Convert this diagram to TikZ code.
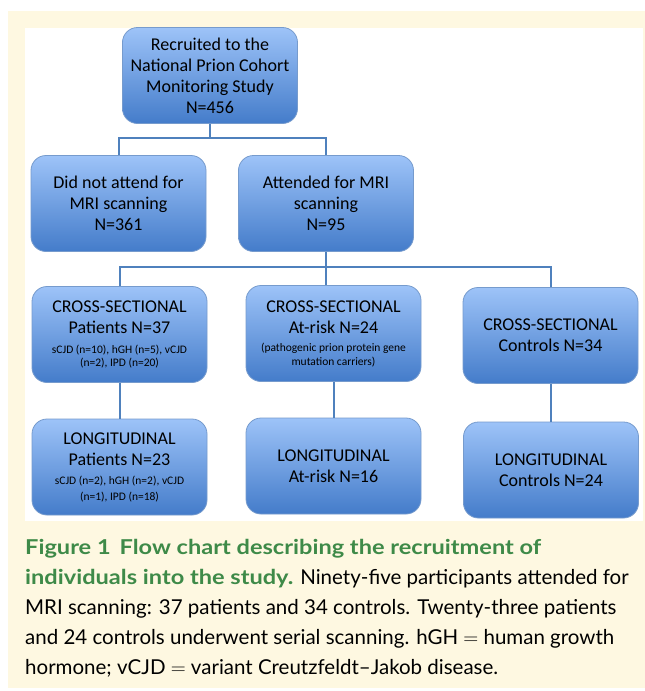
\documentclass[tikz,border=0pt]{standalone}
\usepackage{fontspec}
\setmainfont{Carlito}
\newfontfamily\capfont{Lato}
\newfontfamily\capbold{Lato Bold}[FakeStretch=1.15]
\definecolor{creambg}{RGB}{254, 248, 225}
\definecolor{boxtop}{RGB}{157, 195, 248}
\definecolor{boxbot}{RGB}{68, 124, 202}
\definecolor{boxedge}{RGB}{118, 155, 205}
\definecolor{linkblue}{RGB}{79, 129, 189}
\definecolor{capgreen}{RGB}{62, 138, 72}
\usetikzlibrary{positioning, calc}
\newcommand{\smalltxt}{\fontsize{11.5}{13}\selectfont}

\begin{document}
\begin{tikzpicture}[
    x=1pt, y=-1pt,
    conn/.style={draw=linkblue, line width=2pt},
    flowbox/.style={draw=boxedge, line width=0.8pt, rounded corners=15pt,
                    top color=boxtop, bottom color=boxbot,
                    minimum width=175pt, minimum height=96pt,
                    align=center, inner sep=2pt,
                    font=\fontsize{18}{21}\selectfont}
  ]
    % page, cream frame and white panel
    \useasboundingbox (0,0) rectangle (645,691);
    \fill[creambg] (8,11) rectangle (645,688);
    \fill[white] (25,28) rectangle (643,521);

    % boxes
    \node[flowbox] (rec) at (210,75.5)
      {Recruited to the\\National Prion Cohort\\Monitoring Study\\N=456};
    \node[flowbox] (dna) at (118.5,203.5)
      {Did not attend for\\MRI scanning\\N=361};
    \node[flowbox] (att) at (326,203.5)
      {Attended for MRI\\scanning\\N=95};
    \node[flowbox] (cxp) at (119.5,334.5)
      {CROSS-SECTIONAL\\Patients N=37\\[-1pt]
       \smalltxt sCJD (n=10), hGH (n=5), vCJD\\[-8pt]\smalltxt (n=2), IPD (n=20)};
    \node[flowbox] (cxr) at (333.5,333.5)
      {CROSS-SECTIONAL\\At-risk N=24\\[-3pt]
       \smalltxt (pathogenic prion protein gene\\[-7pt]\smalltxt mutation carriers)};
    \node[flowbox] (cxc) at (550.5,335.5)
      {CROSS-SECTIONAL\\Controls N=34};
    \node[flowbox] (lgp) at (119.5,467)
      {LONGITUDINAL\\Patients N=23\\[-2pt]
       \smalltxt sCJD (n=2), hGH (n=2), vCJD\\[-5pt]\smalltxt (n=1), IPD (n=18)};
    \node[flowbox] (lgr) at (333.5,466)
      {LONGITUDINAL\\At-risk N=16};
    \node[flowbox] (lgc) at (551,470)
      {LONGITUDINAL\\Controls N=24};

    % connectors
    \coordinate (bus1) at (210,138);
    \coordinate (bus2) at (326,267);
    \draw[conn] (rec.south) -- (bus1);
    \draw[conn] (dna.north) |- (bus1) -| (att.north);
    \draw[conn] (att.south) -- (bus2);
    \draw[conn] (cxp.north) |- (bus2) -| (cxc.north);
    \draw[conn] (bus2) -- (bus2 |- cxr.north);
    \draw[conn] (cxp.south) -- (lgp.north);
    \draw[conn] (cxr.south) -- (lgr.north);
    \draw[conn] (cxc.south) -- (cxc.south |- lgc.north);

    % caption
    \node[anchor=north west, align=left, inner sep=0pt,
          font=\capfont\fontsize{20.5}{30}\selectfont] (cap) at (25,539)
      {{\color{capgreen}\capbold Figure 1\hspace{9pt}Flow chart describing the recruitment of}\\
       {\color{capgreen}\capbold individuals into the study.} Ninety-five participants attended for\\
       MRI scanning: 37 patients and 34 controls. Twenty-three patients\\
       and 24 controls underwent serial scanning. hGH $=$ human growth\\
       hormone; vCJD $=$ variant Creutzfeldt–Jakob disease.};
\end{tikzpicture}
\end{document}
